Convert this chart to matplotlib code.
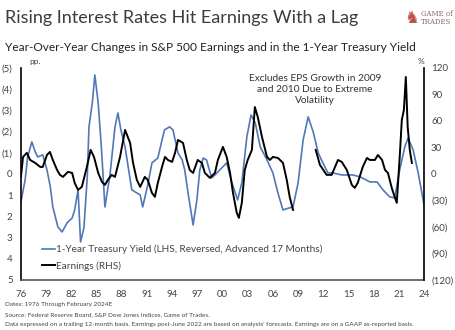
import matplotlib
matplotlib.use("Agg")
import matplotlib.pyplot as plt
from matplotlib.ticker import FuncFormatter

plt.rcParams['font.family'] = ['Lato', 'DejaVu Sans']

# 1-year treasury yield change (pp), plotted on reversed left axis
yield_years = [1976.0, 1976.5, 1976.8, 1977.3, 1977.7, 1978.0, 1978.6, 1979.1, 1979.5, 1979.8,
               1980.4, 1980.9, 1981.5, 1982.1, 1982.4, 1982.8, 1983.1, 1983.5, 1983.9, 1984.1,
               1984.5, 1984.8, 1985.2, 1985.6, 1986.0, 1986.6, 1987.2, 1987.55, 1987.9, 1988.4,
               1989.2, 1989.8, 1990.2, 1990.5, 1991.1, 1991.6, 1992.3, 1992.8, 1993.1, 1993.7,
               1994.1, 1994.7, 1995.2, 1995.5, 1995.9, 1996.5, 1996.95, 1997.3, 1997.7, 1998.1,
               1998.7, 1999.1, 1999.9, 2000.5, 2001.1, 2001.8, 2002.3, 2002.9, 2003.4, 2003.9,
               2004.5, 2005.3, 2006.0, 2006.6, 2007.2, 2008.0, 2008.4, 2009.0, 2009.6, 2010.2,
               2010.8, 2011.4, 2011.95, 2012.55, 2013.1, 2014.2, 2015.5, 2016.4, 2017.55, 2018.4,
               2019.1, 2019.9, 2020.5, 2021.1, 2021.7, 2022.1, 2022.7, 2023.3, 2024.0]
yield_chg = [1.32, 0.28, -0.80, -1.51, -1.04, -0.80, -0.90, -0.19, 0.61, 1.56,
             2.50, 2.74, 2.31, 2.08, 1.70, 0.75, 3.21, 2.55, 0.14, -2.22,
             -3.35, -4.67, -3.35, -1.13, 1.56, 0.05, -2.22, -2.88, -2.08, -1.27,
             0.75, 0.90, 0.99, 1.56, 0.52, -0.52, -0.75, -1.60, -2.08, -2.22,
             -2.08, -0.99, -0.66, -0.19, 0.90, 2.41, 1.23, -0.19, -0.75, -0.66,
             0.19, 0.05, -0.28, -0.52, 0.38, 1.23, 0.42, -1.75, -2.78, -2.41,
             -1.27, -0.66, -0.05, 0.90, 1.70, 1.60, 1.56, 0.42, -1.60, -2.69,
             -1.98, -0.99, -0.52, -0.05, -0.05, 0.05, 0.05, 0.14, 0.38, 0.38,
             0.75, 1.08, 1.13, -0.19, -1.27, -1.70, -1.13, -0.05, 1.46]

# S&P 500 earnings YoY (%), 1976-2008
eps_years_a = [1976.0, 1976.25, 1976.7, 1977.1, 1977.7, 1978.3, 1978.6, 1979.1, 1979.45, 1979.8,
               1980.3, 1980.65, 1981.0, 1981.6, 1982.1, 1982.4, 1982.8, 1983.25, 1983.85, 1984.3,
               1984.7, 1985.2, 1985.65, 1986.0, 1986.35, 1986.8, 1987.2, 1987.8, 1988.4, 1989.0,
               1989.35, 1989.8, 1990.2, 1990.75, 1991.1, 1991.6, 1991.95, 1992.3, 1992.8, 1993.15,
               1993.5, 1994.0, 1994.35, 1994.7, 1995.3, 1995.75, 1996.1, 1996.5, 1997.05, 1997.55,
               1997.9, 1998.5, 1999.1, 1999.45, 2000.05, 2000.5, 2000.9, 2001.25, 2001.7, 2001.95,
               2002.3, 2002.65, 2003.0, 2003.5, 2003.85, 2004.2, 2004.7, 2005.3, 2005.65, 2006.0,
               2006.6, 2007.2, 2007.65, 2008.0, 2008.4]
eps_chg_a = [-3.4, 19.2, 23.8, 15.8, 12.4, 7.9, 7.9, 21.5, 24.9, 15.8,
             4.5, -1.1, -3.4, 2.3, 1.1, -10.2, -18.1, -14.7, 7.9, 27.2,
             19.2, 1.1, -9.1, -12.5, -6.8, -1.1, -3.4, 19.2, 49.8, 35.1,
             12.5, -6.8, -14.7, -3.4, -6.8, -21.5, -26.0, -10.2, 7.9, 19.2,
             15.8, 13.6, 23.8, 38.5, 35.1, 15.8, 4.5, 1.1, 15.8, 12.4,
             1.1, -4.5, 1.1, 15.8, 30.6, 19.2, 1.1, -21.5, -44.2, -49.8,
             -32.8, 4.5, 15.8, 27.2, 75.8, 64.5, 41.9, 19.2, 15.8, 19.2,
             18.1, 12.5, -6.8, -26.0, -40.8]

# S&P 500 earnings YoY (%), 2011-2022
eps_years_b = [2011.1, 2011.6, 2012.4, 2013.0, 2013.75, 2014.2, 2014.8, 2015.4, 2015.75, 2016.1,
               2016.7, 2017.2, 2017.55, 2018.15, 2018.5, 2019.0, 2019.35, 2019.7, 2020.15, 2020.5,
               2020.75, 2021.1, 2021.35, 2021.6, 2021.83, 2022.05, 2022.3, 2022.55]
eps_chg_b = [27.2, 10.2, -1.1, -1.1, 15.8, 13.6, 4.5, -12.5, -15.8, -10.2,
             7.9, 18.1, 15.8, 15.8, 21.5, 15.8, 4.5, 1.1, -15.8, -26.0,
             -32.8, 19.2, 61.1, 72.5, 109.8, 53.2, 27.2, 12.4]

x_ticks = list(range(1976, 2025, 3))
left_ticks = list(range(-5, 6))
right_ticks = list(range(-120, 121, 30))

blue = '#5077b8'
grey_txt = '#444444'


def paren(v, pos=None):
    v = int(round(v))
    return f"({abs(v)})" if v < 0 else f"{v}"


fig = plt.figure(figsize=(4.55, 3.30), dpi=100)
ax = fig.add_axes([0.046, 0.152, 0.886, 0.642])

ax.plot(yield_years, yield_chg, color=blue, lw=1.2,
        label='1-Year Treasury Yield (LHS, Reversed, Advanced 17 Months)')
ax.set_xlim(1976, 2024)
ax.set_ylim(5, -5)
ax.set_yticks(left_ticks)
ax.yaxis.set_major_formatter(FuncFormatter(paren))
ax.set_xticks(x_ticks)
ax.set_xticklabels([f"{y % 100:02d}" for y in x_ticks])

ax2 = ax.twinx()
ax2.plot(eps_years_a, eps_chg_a, color='black', lw=1.4, label='Earnings (RHS)')
ax2.plot(eps_years_b, eps_chg_b, color='black', lw=1.4)
ax2.set_ylim(-120, 120)
ax2.set_yticks(right_ticks)
ax2.yaxis.set_major_formatter(FuncFormatter(paren))

for a in (ax, ax2):
    a.spines['top'].set_visible(False)
    a.tick_params(length=0, labelsize=7, colors=grey_txt)
ax.spines['left'].set_linewidth(1.2)
ax.spines['left'].set_color('black')
ax2.spines['right'].set_linewidth(1.2)
ax2.spines['right'].set_color('black')
ax.spines['bottom'].set_color('#555555')
ax.spines['bottom'].set_linewidth(1.2)
ax2.spines['bottom'].set_visible(False)
ax2.spines['left'].set_visible(False)
ax.spines['right'].set_visible(False)
ax.tick_params(axis='x', pad=7)
ax.tick_params(axis='y', pad=6)
ax2.tick_params(axis='y', pad=5)

h1, l1 = ax.get_legend_handles_labels()
h2, l2 = ax2.get_legend_handles_labels()
ax.legend(h1 + h2, l1 + l2, loc='lower left', bbox_to_anchor=(0.03, 0.0),
          frameon=False, fontsize=7.2, handlelength=1.3, handletextpad=0.1,
          labelspacing=0.7, labelcolor=grey_txt)

ax.text(0.73, 0.97, "Excludes EPS Growth in 2009\nand 2010 Due to Extreme\nVolatility",
        transform=ax.transAxes, ha='center', va='top', fontsize=7.3,
        color='#333333', linespacing=1.25)

fig.text(0.065, 0.805, 'pp.', fontsize=6, color=grey_txt)
fig.text(0.918, 0.805, '%', fontsize=6, color=grey_txt)

fig.text(0.012, 0.945, 'Rising Interest Rates Hit Earnings With a Lag',
         fontsize=13, color='#3c3c3c', va='center')
fig.text(0.012, 0.855, 'Year-Over-Year Changes in S&P 500 Earnings and in the 1-Year Treasury Yield',
         fontsize=8.6, color='#222222', va='center')
# logo
fig.text(0.904, 0.945, '\u265e', fontsize=12, color='#c0504d', ha='center', va='center',
         family='DejaVu Sans')
fig.text(0.925, 0.945, 'GAME of\nTRADES', fontsize=5, color='#8a6a66',
         family='DejaVu Serif', ha='left', va='center', linespacing=1.0)

fig.text(0.012, 0.073, 'Dates: 1976 Through February 2024E', fontsize=4.6, color=grey_txt)
fig.text(0.012, 0.043, 'Source: Federal Reserve Board, S&P Dow Jones Indices, Game of Trades.',
         fontsize=4.6, color=grey_txt)
fig.text(0.012, 0.013, "Data expressed on a trailing 12-month basis. Earnings post-June 2022 are based on "
         "analysts' forecasts. Earnings are on a GAAP as-reported basis.",
         fontsize=4.6, color=grey_txt)

fig.savefig('out.png', dpi=100)
